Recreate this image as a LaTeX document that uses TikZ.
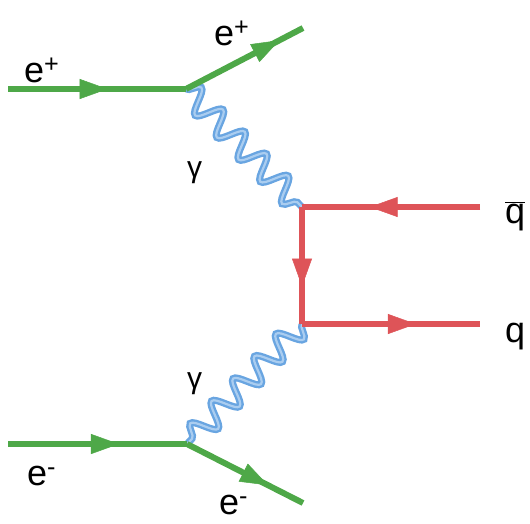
\documentclass[tikz,border=0pt]{standalone}
\usepackage{fontspec}
\setmainfont{Liberation Sans}
\usetikzlibrary{decorations.markings,decorations.pathmorphing,arrows.meta}
\definecolor{fgreen}{RGB}{78,168,72}
\definecolor{fblue}{RGB}{105,165,225}
\definecolor{fblueL}{RGB}{170,205,240}
\definecolor{fred}{RGB}{222,84,88}
\tikzset{
  fermion/.style={line width=6pt, postaction={decorate},
    decoration={markings, mark=at position #1 with {\arrow[line width=0.5pt]{Triangle[length=28pt,width=20pt]}}}},
  electron/.style={fermion=#1, draw=fgreen, fgreen},
  quark/.style={fermion=#1, draw=fred, fred},
  photon/.style={draw=fblue, line width=2.4pt, double=fblueL, double distance=2.2pt, decorate,
    decoration={snake, segment length=31pt, amplitude=12pt}},
  lbl/.style={font=\fontsize{36}{36}\selectfont, inner sep=0pt, anchor=base west},
  glbl/.style={font=\fontsize{30}{30}\selectfont, inner sep=0pt, anchor=base west}
}
\begin{document}
\begin{tikzpicture}[x=1pt,y=-1pt]
\useasboundingbox (0,0) rectangle (530,523);
\coordinate (a1) at (8,89);
\coordinate (v1) at (186,89);
\coordinate (a2) at (303,28);
\coordinate (v2) at (302,207);
\coordinate (qb) at (480,207);
\coordinate (v3) at (302,324);
\coordinate (q) at (480,324);
\coordinate (b1) at (8,444);
\coordinate (v4) at (187,444);
\coordinate (b2) at (303,503);
% photons
\draw[photon] (v1) -- (v2);
\draw[photon] (v3) -- (v4);
% electrons
\draw[electron=0.56] (a1) -- (v1);
\draw[electron=0.8] (v1) -- (a2);
\draw[electron=0.62] (b1) -- (v4);
\draw[electron=0.7] (v4) -- (b2);
% quarks
\draw[quark=0.62] (qb) -- (v2);
\draw[quark=0.68] (v2) -- (v3);
\draw[quark=0.64] (v3) -- (q);
% labels
\node[lbl] (le1) at (24,82) {e\textsuperscript{+}};
\node[lbl] (le2) at (214,45) {e\textsuperscript{+}};
\node[glbl] (lg1) at (187,177) {γ};
\node[glbl] (lg2) at (187,388) {γ};
\node[lbl] (lqb) at (505,223) {$\overline{\mbox{q}}$};
\node[lbl] (lq) at (505,342) {q};
\node[lbl] (le3) at (27,485) {e\textsuperscript{-}};
\node[lbl] (le4) at (219,514) {e\textsuperscript{-}};
\end{tikzpicture}
\end{document}
